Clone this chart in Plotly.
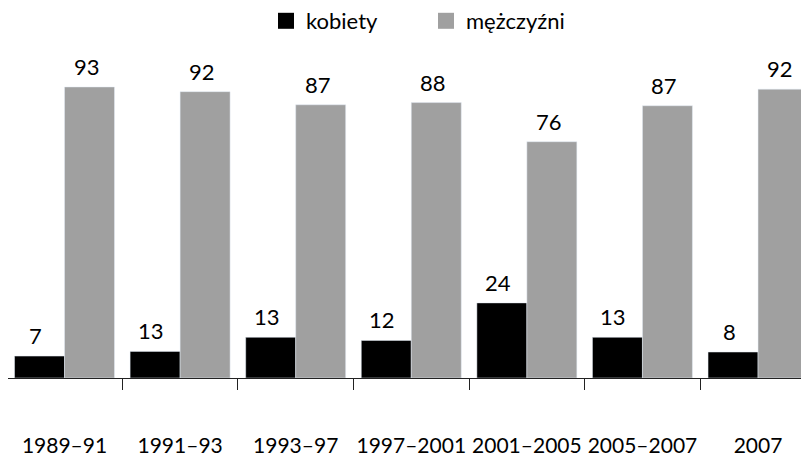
import plotly.graph_objects as go

categories = ["1989–91", "1991–93", "1993–97", "1997–2001", "2001–2005", "2005–2007", "2007"]
kobiety = [7, 8.5, 13, 12, 24, 13, 8.3]
mezczyzni = [93, 91.5, 87.3, 88, 75.5, 87, 92.3]
kobiety_labels = ["7", "13", "13", "12", "24", "13", "8"]
mezczyzni_labels = ["93", "92", "87", "88", "76", "87", "92"]
series_names = ["kobiety", "mężczyźni"]
colors = ["#000000", "#A0A0A0"]

FONT = "Lato"
W, H = 801, 448  # page body adds an 8px margin

fig = go.Figure()
fig.add_trace(go.Bar(x=categories, y=kobiety, name=series_names[0], marker_color=colors[0],
                     showlegend=False))
fig.add_trace(go.Bar(x=categories, y=mezczyzni, name=series_names[1], marker_color=colors[1],
                     showlegend=False))
# legend entries with larger square swatches
for n, c in zip(series_names, colors):
    fig.add_trace(go.Scatter(x=[None], y=[None], mode="markers", name=n,
                             marker=dict(symbol="square", size=16, color=c)))

for i, (v, t) in enumerate(zip(kobiety, kobiety_labels)):
    fig.add_annotation(x=i, y=v, text=t, showarrow=False, yanchor="bottom",
                       xshift=-29, yshift=5, font=dict(family=FONT, size=22, color="#000"))
for i, (v, t) in enumerate(zip(mezczyzni, mezczyzni_labels)):
    fig.add_annotation(x=i, y=v, text=t, showarrow=False, yanchor="bottom",
                       xshift=22, yshift=5, font=dict(family=FONT, size=22, color="#000"))

fig.update_layout(
    width=W, height=H,
    margin=dict(l=0, r=0, t=32, b=77.5, autoexpand=False),
    plot_bgcolor="white", paper_bgcolor="white",
    barmode="group", bargap=0.135, bargroupgap=0,
    font=dict(family=FONT, size=21, color="#000"),
    legend=dict(orientation="h", x=258 / W, xanchor="left", y=1 - 13 / H, yref="container",
                yanchor="middle", font=dict(family=FONT, size=22), tracegroupgap=0,
                entrywidth=115, itemsizing="trace"),
    showlegend=True,
)
fig.update_xaxes(type="category", range=[-0.489, 6.441], showline=True, linecolor="#222",
                 linewidth=1.3, ticks="outside", tickson="boundaries", ticklen=11,
                 tickcolor="#222", tickwidth=1.3, tickangle=0,
                 ticklabelstandoff=49, tickfont=dict(family=FONT, size=21), showgrid=False,
                 automargin=False)
fig.update_yaxes(range=[0, 108], visible=False, showgrid=False)

fig.write_html("out.html")
